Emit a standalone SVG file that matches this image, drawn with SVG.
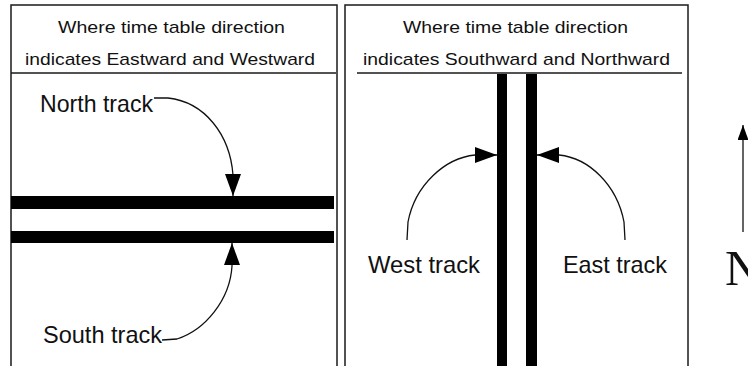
<svg xmlns="http://www.w3.org/2000/svg" width="748" height="366" viewBox="0 0 748 366">
  <style>
    .panel { fill: #ffffff; stroke: #1a1a1a; stroke-width: 1.5; }
    .sep { stroke: #1a1a1a; stroke-width: 1.5; }
    .track { fill: #000000; }
    .head { font-family: "Liberation Sans", Arial, sans-serif; font-size: 17px; fill: #111; }
    .lbl { font-family: "Liberation Sans", Arial, sans-serif; font-size: 24px; fill: #111; }
    .conn { fill: none; stroke: #111; stroke-width: 1.3; }
    .compass { font-family: "Liberation Serif", "Times New Roman", serif; font-size: 50px; fill: #111; }
  </style>
  <defs>
    <marker id="arrow" markerUnits="userSpaceOnUse" markerWidth="22" markerHeight="16" viewBox="0 0 22 16" refX="22" refY="8" orient="auto">
      <path d="M0,0 L22,8 L0,16 Z" fill="#000"/>
    </marker>
    <marker id="arrowSmall" markerUnits="userSpaceOnUse" markerWidth="15" markerHeight="11" viewBox="0 0 15 11" refX="15" refY="5.5" orient="auto">
      <path d="M0,0 L15,5.5 L0,11 Z" fill="#000"/>
    </marker>
  </defs>
  <rect width="748" height="366" fill="#ffffff"/>

  <g id="panel-eastwest">
    <rect class="panel" x="11" y="5" width="326" height="380"/>
    <line class="sep" x1="11" y1="73" x2="336" y2="73"/>
    <text class="head" x="58" y="33" textLength="227" lengthAdjust="spacingAndGlyphs">Where time table direction</text>
    <text class="head" x="25" y="65" textLength="290" lengthAdjust="spacingAndGlyphs">indicates Eastward and Westward</text>
  </g>

  <g id="north-track">
    <rect class="track" x="11" y="196" width="323" height="13"/>
  </g>
  <g id="south-track">
    <rect class="track" x="11" y="231" width="323" height="12"/>
  </g>
  <g id="label-north">
    <text class="lbl" x="40" y="112" textLength="113" lengthAdjust="spacingAndGlyphs">North track</text>
  </g>
  <g id="label-south">
    <text class="lbl" x="43" y="343" textLength="119" lengthAdjust="spacingAndGlyphs">South track</text>
  </g>

  <g id="panel-southnorth">
    <rect class="panel" x="345" y="5" width="343" height="380"/>
    <line class="sep" x1="357" y1="73" x2="682" y2="73"/>
    <text class="head" x="403" y="33" textLength="225" lengthAdjust="spacingAndGlyphs">Where time table direction</text>
    <text class="head" x="363" y="65" textLength="307" lengthAdjust="spacingAndGlyphs">indicates Southward and Northward</text>
  </g>

  <g id="west-track">
    <rect class="track" x="497" y="74" width="10" height="300"/>
  </g>
  <g id="east-track">
    <rect class="track" x="526" y="74" width="11" height="300"/>
  </g>
  <g id="label-west">
    <text class="lbl" x="368" y="273" textLength="112" lengthAdjust="spacingAndGlyphs">West track</text>
  </g>
  <g id="label-east">
    <text class="lbl" x="563" y="273" textLength="104" lengthAdjust="spacingAndGlyphs">East track</text>
  </g>

  <g id="compass">
    <line class="conn" x1="743" y1="232" x2="743" y2="125" marker-end="url(#arrowSmall)"/>
    <text class="compass" x="725" y="285">N</text>
  </g>

  <g id="connectors">
    <path class="conn" d="M154,98 L168,98 C205,102 230,135 233,175 L233,196" marker-end="url(#arrow)"/>
    <path class="conn" d="M162,340 L177,339 C205,330 230,300 232,266 L232,243" marker-end="url(#arrow)"/>
    <path class="conn" d="M407,240 L408,222 C415,185 445,158 475,155 L497,155" marker-end="url(#arrow)"/>
    <path class="conn" d="M625,240 L624,222 C617,185 589,158 559,155 L537,155" marker-end="url(#arrow)"/>
  </g>
</svg>
